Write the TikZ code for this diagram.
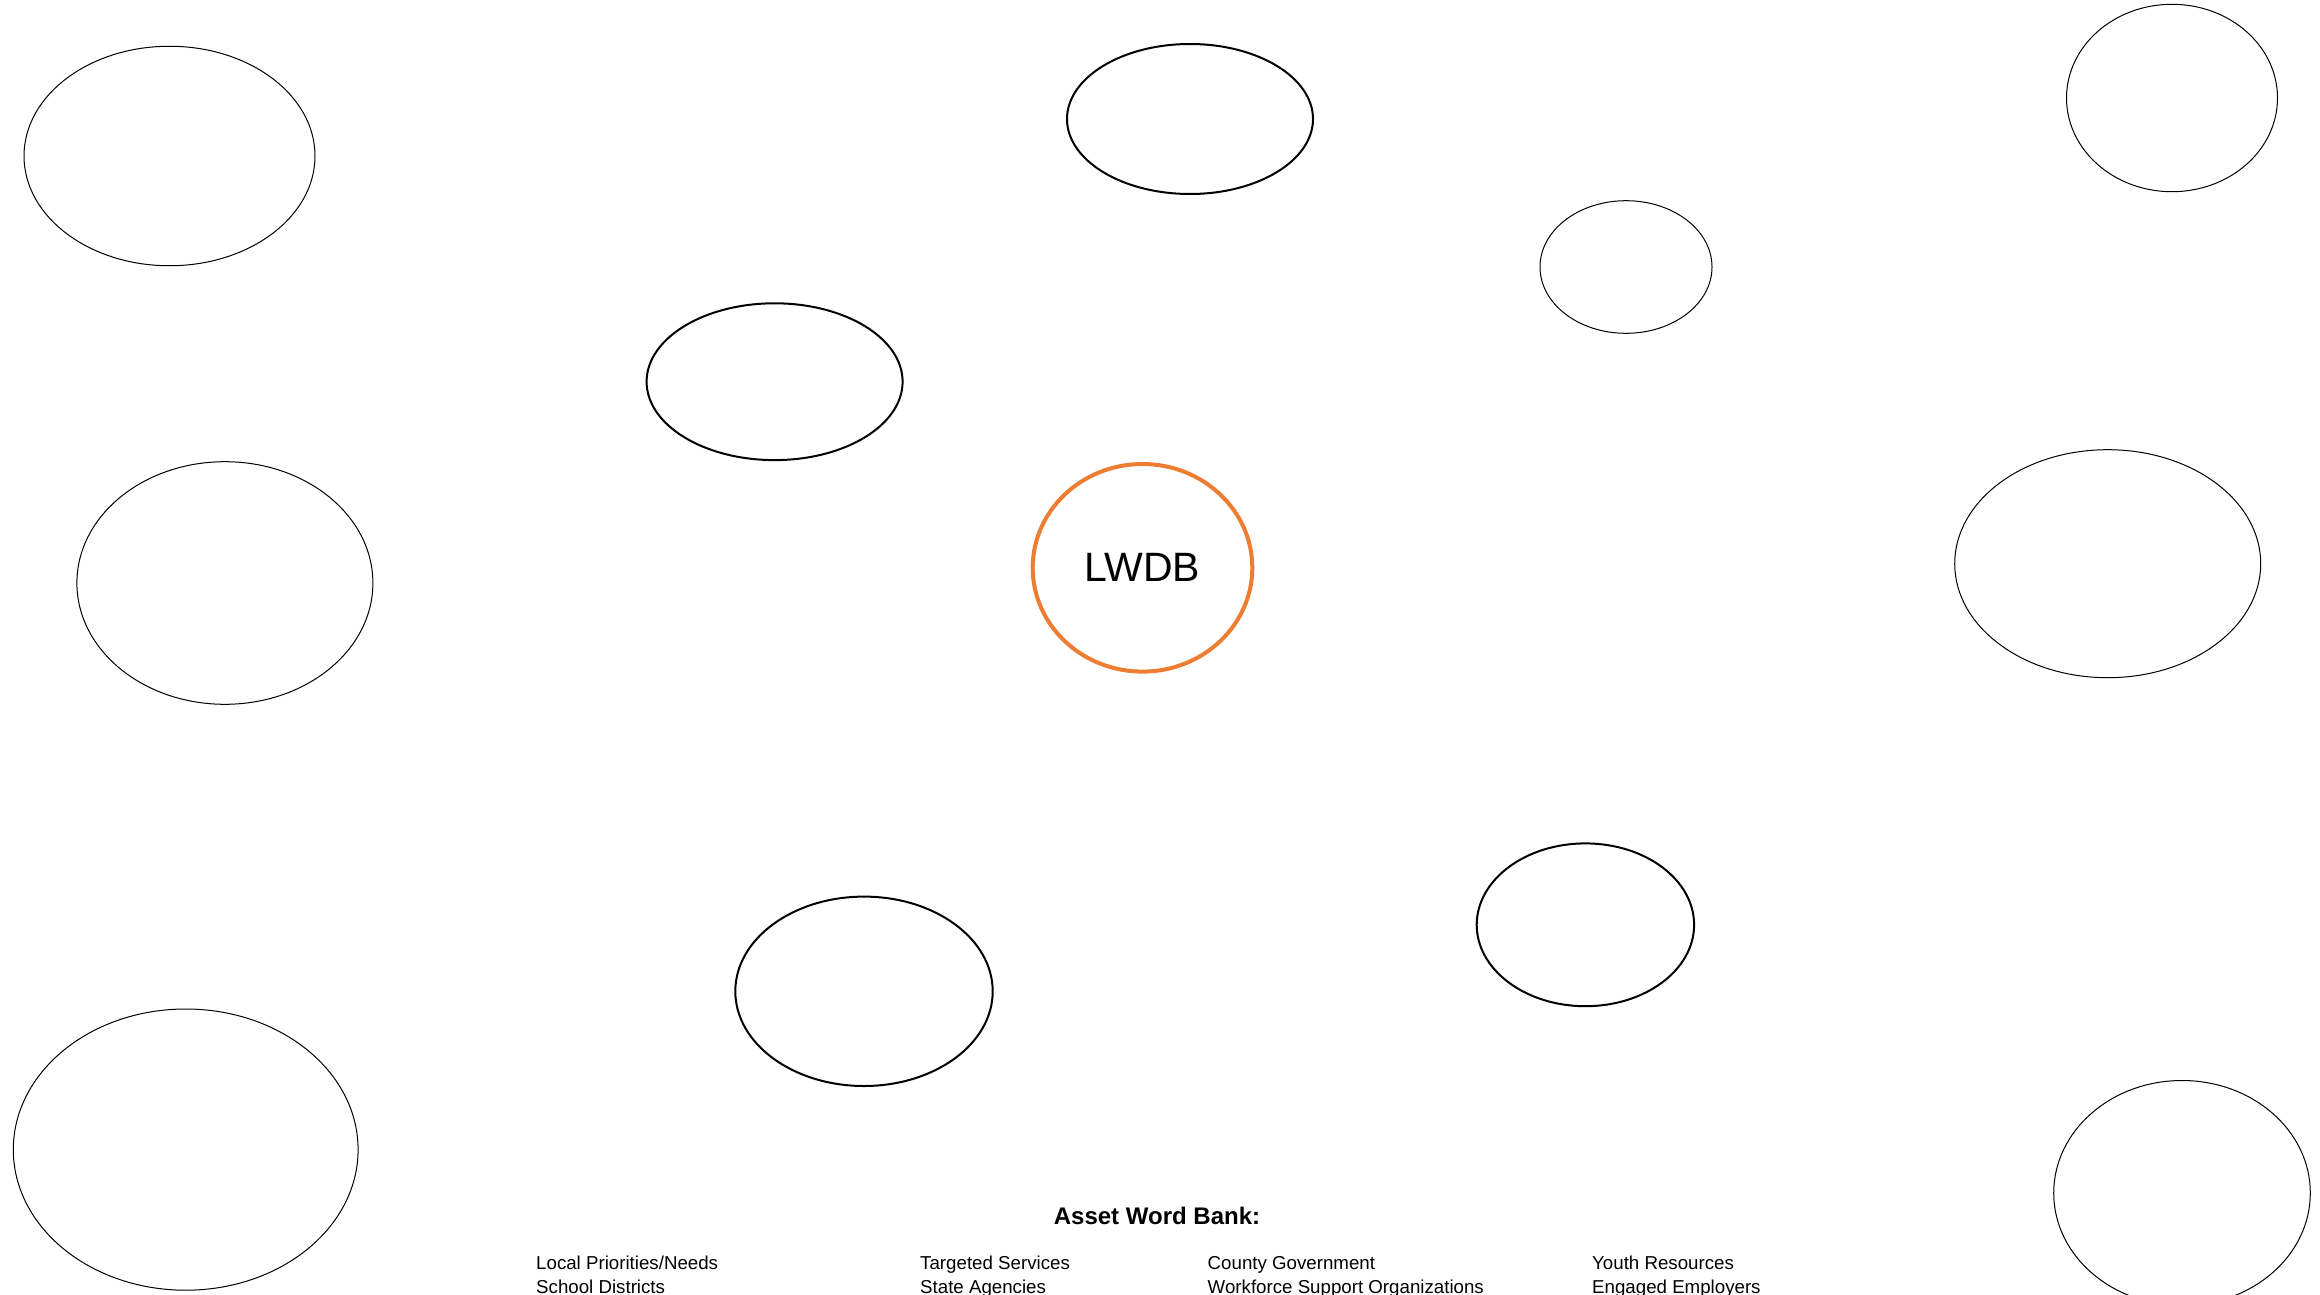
\documentclass[tikz,border=0pt]{standalone}
\usepackage{fontspec}
\setmainfont{Liberation Sans}
\usetikzlibrary{shapes.geometric,positioning}

\definecolor{lwdborange}{HTML}{ED7D31}

\begin{document}
\begin{tikzpicture}[x=1pt, y=-1pt,
        en/.style={ellipse, draw, line width=1pt, inner sep=0pt},
        tn/.style={ellipse, draw, line width=2pt, inner sep=0pt},
        hub/.style={ellipse, draw=lwdborange, line width=4pt, inner sep=0pt,
                    font=\fontsize{41}{49}\selectfont},
        wbh/.style={anchor=base, inner sep=0pt, font=\fontsize{24}{29}\selectfont\bfseries},
        wb/.style={anchor=base west, inner sep=0pt, font=\fontsize{18.7}{22}\selectfont}
    ]
    \useasboundingbox (0,0) rectangle (2320,1295);

    %% ---- centre ----
    \node[hub, minimum width=219.6pt, minimum height=207.6pt] (lwdb) at (1142.5,567.8) {LWDB};

    %% ---- empty asset ellipses, top row ----
    \node[en, minimum width=291pt, minimum height=219.5pt] (tl) at (169.5,156) {};
    \node[tn, minimum width=246pt, minimum height=150pt] (tm) at (1190,119) {};
    \node[en, minimum width=172pt, minimum height=132.6pt] (trs) at (1626,267) {};
    \node[en, minimum width=211pt, minimum height=187.4pt] (tr) at (2172,98) {};

    %% ---- middle row ----
    \node[tn, minimum width=256pt, minimum height=156.8pt] (ml) at (774.6,381.7) {};
    \node[en, minimum width=296pt, minimum height=242.6pt] (lm) at (224.9,583) {};
    \node[en, minimum width=306pt, minimum height=228pt] (rm) at (2107.7,563.7) {};

    %% ---- bottom row ----
    \node[tn, minimum width=257.4pt, minimum height=189.4pt] (bml) at (864,991.3) {};
    \node[tn, minimum width=217.4pt, minimum height=162.8pt] (bmr) at (1585.4,924.8) {};
    \node[en, minimum width=344.8pt, minimum height=281.2pt] (bl) at (185.7,1149.6) {};
    \node[en, minimum width=256.6pt, minimum height=225pt] (br) at (2182,1193) {};

    %% ---- word bank ----
    \node[wbh] (bank) at (1157,1224.5) {Asset Word Bank:};
    \node[wb] (lp) at (536,1269.5) {Local Priorities/Needs};
    \node[wb] (sd) at (536,1293) {School Districts};
    \node[wb] (ts) at (920,1269.5) {Targeted Services};
    \node[wb] (sa) at (920,1293) {State Agencies};
    \node[wb] (cg) at (1207.5,1269.5) {County Government};
    \node[wb] (wso) at (1207.5,1293) {Workforce Support Organizations};
    \node[wb] (yr) at (1592,1269.5) {Youth Resources};
    \node[wb] (ee) at (1592,1293) {Engaged Employers};

\end{tikzpicture}
\end{document}
